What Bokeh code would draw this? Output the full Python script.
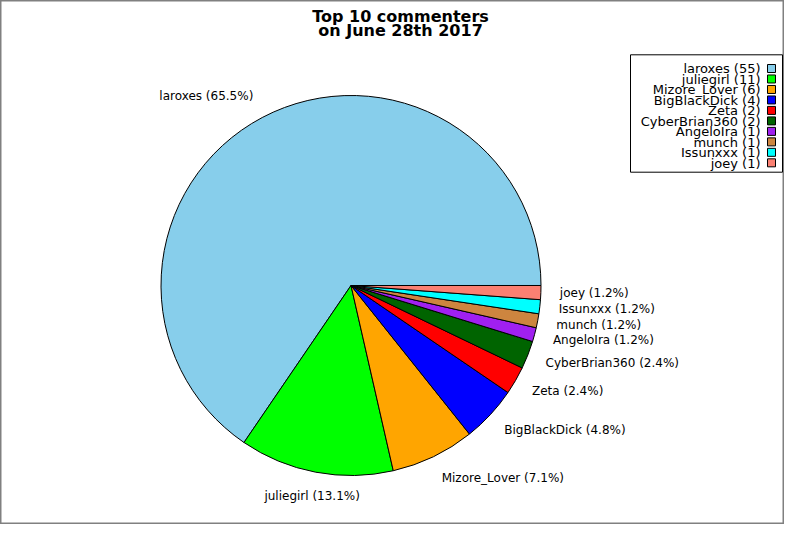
import math
from bokeh.plotting import figure
from bokeh.models import Range1d, ColumnDataSource
from bokeh.core.properties import value
from bokeh.embed import file_html
from bokeh.resources import INLINE

# ---- data ----
names = ["laroxes", "juliegirl", "Mizore_Lover", "BigBlackDick", "Zeta",
         "CyberBrian360", "AngeloIra", "munch", "Issunxxx", "joey"]
counts = [55, 11, 6, 4, 2, 2, 1, 1, 1, 1]
colors = ["#87CEEB", "#00FF00", "#FFA500", "#0000FF", "#FF0000",
          "#006400", "#A020F0", "#CD853F", "#00FFFF", "#FA8072"]
title_lines = ["Top 10 commenters", "on June 28th 2017"]

# ---- layout (pixel units, y measured from top) ----
FIG_W, FIG_H = 784, 524
FONT = "DejaVu Sans"


def Y(y_top):
    return FIG_H - y_top


p = figure(width=FIG_W, height=FIG_H, x_range=Range1d(0, FIG_W), y_range=Range1d(0, FIG_H),
           x_axis_location=None, y_axis_location=None, toolbar_location=None,
           output_backend="svg", min_border=0)
p.grid.visible = False
p.outline_line_color = "#808080"
p.outline_line_width = 2
p.background_fill_color = "white"
p.border_fill_color = "white"

# ---- pie ----
cx, cy, R = 350.5, Y(285), 190
total = sum(counts)
starts, ends = [], []
acc = 0.0
for c in counts:
    a0 = acc / total * 2 * math.pi
    acc += c
    a1 = acc / total * 2 * math.pi
    starts.append(a0)
    ends.append(a1)

src = ColumnDataSource(dict(start=starts, end=ends, color=colors))
p.wedge(x=cx, y=cy, radius=R, start_angle="start", end_angle="end",
        fill_color="color", line_color="black", line_width=1, source=src)

# ---- slice labels ----
groups = {"left": ([], [], []), "right": ([], [], []), "center": ([], [], [])}
for name, c, a0, a1 in zip(names, counts, starts, ends):
    mid = (a0 + a1) / 2
    co, si = math.cos(mid), math.sin(mid)
    lx = cx + 1.1 * R * co
    ly = cy + 1.1 * R * si + 5.5 * si * abs(si)
    align = "left" if co > 0.25 else ("right" if co < -0.25 else "center")
    g = groups[align]
    g[0].append(lx)
    g[1].append(ly)
    g[2].append(f"{name} ({100.0 * c / total:.1f}%)")

for align, (xs, ys, ts) in groups.items():
    if xs:
        p.text(x=xs, y=ys, text=ts, text_align=align, text_baseline="middle",
               text_font=value(FONT), text_font_size="12px", text_color="black")

# ---- title ----
p.text(x=[400, 400], y=[Y(16), Y(29.5)], text=title_lines,
       text_align="center", text_baseline="alphabetic",
       text_font=value(FONT), text_font_style="bold",
       text_font_size="16px", text_color="black")

# ---- legend ----
LG_L, LG_R, LG_T, LG_B = 630, 782, 54.3, 171.7
ROW0, ROW_H = 68.0, 10.48
SQ_L, SQ = 767, 8
TXT_R = 760
p.quad(left=[LG_L], right=[LG_R], top=[Y(LG_T)], bottom=[Y(LG_B)],
       fill_color="white", line_color="black", line_width=1)
row_c = [ROW0 + i * ROW_H for i in range(len(names))]
p.quad(left=[SQ_L] * len(names), right=[SQ_L + SQ] * len(names),
       top=[Y(r - SQ / 2) for r in row_c], bottom=[Y(r + SQ / 2) for r in row_c],
       fill_color=colors, line_color="black", line_width=1)
p.text(x=[TXT_R] * len(names), y=[Y(r + 0.3) for r in row_c],
       text=[f"{n} ({c})" for n, c in zip(names, counts)],
       text_align="right", text_baseline="alphabetic",
       text_font=value(FONT), text_font_size="13px", text_color="black")

open("out.html", "w").write(file_html(p, INLINE))
